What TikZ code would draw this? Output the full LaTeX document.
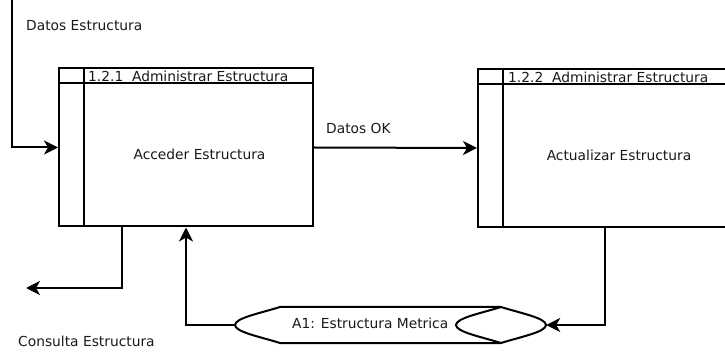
\documentclass[tikz,border=0pt]{standalone}
\usepackage{fontspec}
\setmainfont{DejaVu Sans}
\usetikzlibrary{arrows.meta}
\begin{document}
\begin{tikzpicture}[x=1pt,y=-1pt,
  every node/.style={font=\fontsize{13.8}{16}\selectfont, inner sep=0pt, text=black!90},
  proc/.style={draw, line width=2pt, minimum width=254pt, minimum height=158pt},
  flow/.style={line width=2pt, -{Stealth[length=14pt,width=14pt,inset=4pt]}},
  plain/.style={line width=2pt},
  store/.style={minimum width=311pt, minimum height=36pt}]
\useasboundingbox (0,0) rectangle (725,352);
\clip (0,0) rectangle (725,352);
% process boxes
\node[proc] (b1) at (186,147.5) {};
\node[proc] (b2) at (605,148) {};
\draw[plain] ([yshift=-16pt]b1.north west) -- ([yshift=-16pt]b1.north east);
\draw[plain] ([xshift=26pt]b1.north west) -- ([xshift=26pt]b1.south west);
\draw[plain] ([yshift=-16pt]b2.north west) -- ([yshift=-16pt]b2.north east);
\draw[plain] ([xshift=26pt]b2.north west) -- ([xshift=26pt]b2.south west);
\node[anchor=base west] (h1) at (88,81.5) {1.2.1\ \ Administrar Estructura};
\node[anchor=base west] (h2) at (508,82.5) {1.2.2\ \ Administrar Estructura};
\node[anchor=base] (t1) at (199.5,159.5) {Acceder Estructura};
\node[anchor=base] (t2) at (619,160.5) {Actualizar Estructura};
% data store
\node[store] (s) at (390.5,325) {};
\draw[plain] (280,307) -- (501,307) .. controls (520,313) and (546,318) .. (546,325)
  .. controls (546,332) and (520,337) .. (501,343) -- (280,343)
  .. controls (261,337) and (235,332) .. (235,325)
  .. controls (235,318) and (261,313) .. (280,307) -- cycle;
\draw[plain] (501,307) .. controls (482,313) and (456,318) .. (456,325)
  .. controls (456,332) and (482,337) .. (501,343);
\node[anchor=base west] (st) at (292,328.5) {A1: Estructura Metrica};
% free ends
\coordinate (in1) at (12,0);
\coordinate (out1) at (26,288);
% connectors
\draw[flow] (in1) |- (b1.west);
\draw[flow] (b1.east) -- (b2.west);
\draw[flow] ([xshift=64pt]b1.south west) |- (out1);
\draw[flow] (s.west) -| ([xshift=128pt]b1.south west);
\draw[flow] ([xshift=128pt]b2.south west) |- (s.east);
% labels
\node[anchor=base west] (l1) at (26,31) {Datos Estructura};
\node[anchor=base west] (l2) at (326,134) {Datos OK};
\node[anchor=base west] (l3) at (18,346) {Consulta Estructura};
\end{tikzpicture}
\end{document}
